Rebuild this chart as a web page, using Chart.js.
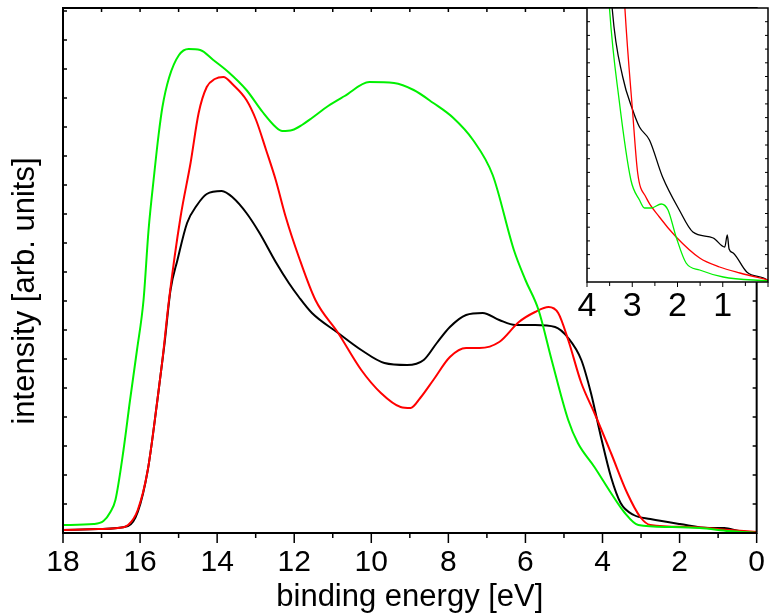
<!DOCTYPE html>
<html>
<head>
<meta charset="utf-8">
<script src="https://cdn.jsdelivr.net/npm/chart.js@4.4.1/dist/chart.umd.min.js"></script>
<style>
  body { margin: 0; background: #fff; }
  #wrap { position: relative; width: 777px; height: 616px; }
  #main { position: absolute; left: 0; top: 0; }
  #inset { position: absolute; left: 545px; top: 0; }
</style>
</head>
<body>
<div id="wrap">
  <canvas id="main" width="777" height="616"></canvas>
  <canvas id="inset" width="232" height="335"></canvas>
</div>
<script>
// main spectrum: binding energy [eV] and intensity [arb. units]
const greenE = [18, 17.21, 16.95, 16.77, 16.64, 16.43, 16.26, 16.08, 15.91, 15.78, 15.63, 15.52, 15.42, 15.25, 14.99, 14.74, 14.44, 14.10, 13.71, 13.24, 12.82, 12.48, 12.31, 12.05, 11.80, 11.54, 11.12, 10.69, 10.05, 9.41, 8.90, 8.39, 7.87, 7.36, 6.85, 6.30, 6.00, 5.66, 5.32, 4.89, 4.64, 4.21, 3.78, 3.44, 3.07, 2.25, 1.48, 0.72, 0];
const greenI = [8, 9, 12, 21, 33, 83, 133, 183, 233, 303, 360, 398, 426, 455, 478, 484, 483, 473, 461, 443, 421, 406, 402, 403, 408, 415, 427, 437, 451, 450, 443, 430, 415, 393, 358, 283, 253, 223, 173, 113, 90, 66, 40, 21, 8, 6, 5, 2, 0];

const redE = [18, 17.08, 16.57, 16.31, 16.06, 15.80, 15.55, 15.42, 15.25, 14.95, 14.69, 14.48, 14.27, 14.06, 13.84, 13.58, 13.24, 12.99, 12.73, 12.48, 12.22, 11.88, 11.45, 10.86, 10.26, 9.75, 9.24, 8.98, 8.73, 8.39, 7.96, 7.54, 7.19, 6.68, 6.17, 5.75, 5.40, 5.15, 4.89, 4.55, 4.21, 3.78, 3.36, 3.02, 2.76, 1.74, 0.72, 0];
const redI = [3, 4, 5, 8, 23, 63, 133, 173, 233, 316, 370, 420, 446, 454, 456, 448, 433, 413, 383, 353, 316, 276, 233, 200, 163, 140, 126, 125, 135, 153, 176, 185, 185, 191, 211, 221, 226, 220, 193, 150, 120, 80, 40, 16, 8, 6, 3, 1];

const blackE = [18, 17.08, 16.31, 16.06, 15.80, 15.55, 15.37, 15.21, 15.03, 14.78, 14.52, 14.27, 13.88, 13.58, 13.24, 12.90, 12.48, 12.14, 11.88, 11.54, 10.86, 10.26, 9.66, 9.07, 8.64, 8.30, 7.96, 7.54, 7.11, 6.68, 6.26, 5.75, 5.23, 4.89, 4.55, 4.30, 4.04, 3.78, 3.53, 3.19, 2.76, 1.99, 1.23, 0.84, 0.46, 0];
const blackI = [3, 4, 7, 21, 63, 133, 188, 243, 273, 310, 328, 339, 342, 335, 320, 300, 271, 250, 236, 220, 200, 183, 170, 168, 173, 190, 206, 218, 220, 213, 208, 208, 206, 195, 173, 140, 96, 56, 30, 18, 14, 9, 5, 5, 2, 0];

// inset: magnified region near the Fermi level
const insGreenE = [3.65, 3.50, 3.29, 3.03, 2.84, 2.73, 2.58, 2.36, 2.21, 2.03, 1.81, 1.51, 0.99, 0];
const insGreenI = [400, 272, 182, 102, 82, 74, 74, 78, 72, 45, 19, 12, 5, 1];
const insRedE = [3.30, 3.16, 2.99, 2.88, 2.70, 2.40, 2.03, 1.51, 1.07, 0.62, 0];
const insRedI = [400, 272, 169, 109, 85, 65, 45, 24, 15, 9, 2];
const insBlackE = [3.60, 3.44, 3.21, 2.99, 2.84, 2.62, 2.33, 1.96, 1.66, 1.21, 0.955, 0.90, 0.86, 0.77, 0.47, 0.02, 0];
const insBlackI = [400, 272, 205, 172, 155, 142, 105, 72, 50, 44, 35, 47, 33, 29, 10, 2, 1];

const mainXTicks = [18, 16, 14, 12, 10, 8, 6, 4, 2, 0];
const insetXTicks = [4, 3, 2, 1];

const FONT = '"Liberation Sans", Arial, sans-serif';

function pts(e, v) {
  return e.map((x, i) => ({ x: x, y: v[i] }));
}

function line(data, color, w) {
  return {
    data: data,
    borderColor: color,
    borderWidth: w,
    pointRadius: 0,
    fill: false,
    cubicInterpolationMode: 'monotone'
  };
}

// box around the plot, with outward ticks on the bottom and inward ticks elsewhere
const frame = {
  id: 'frame',
  beforeDatasetsDraw(chart, args, o) {
    if (!o.fillWhite) return;
    const a = chart.chartArea;
    chart.ctx.save();
    chart.ctx.fillStyle = '#fff';
    chart.ctx.fillRect(a.left, a.top, a.right - a.left, a.bottom - a.top);
    chart.ctx.restore();
  },
  afterDraw(chart, args, o) {
    const ctx = chart.ctx;
    const a = chart.chartArea;
    const x = chart.scales.x, y = chart.scales.y;
    ctx.save();
    ctx.strokeStyle = '#000';
    ctx.lineWidth = o.tickWidth;
    ctx.beginPath();
    for (let v = x.min; v <= x.max + 1e-9; v += o.xMinor) {
      const px = x.getPixelForValue(v);
      const r = v / o.xMajor;
      const major = Math.abs(r - Math.round(r)) < 1e-6;
      ctx.moveTo(px, a.bottom);
      ctx.lineTo(px, a.bottom + (major ? o.outMajor : o.outMinor));
      if (o.topTicks) {
        ctx.moveTo(px, a.top);
        ctx.lineTo(px, a.top + o.inLen);
      }
    }
    for (let v = y.min + o.yStep; v < y.max - 1; v += o.yStep) {
      const py = y.getPixelForValue(v);
      ctx.moveTo(a.left, py);
      ctx.lineTo(a.left + o.inLen, py);
      ctx.moveTo(a.right, py);
      ctx.lineTo(a.right - o.inLen, py);
    }
    ctx.stroke();
    ctx.lineWidth = o.width;
    ctx.strokeRect(a.left, a.top, a.right - a.left, a.bottom - a.top);
    if (o.yTitle) {
      ctx.fillStyle = '#000';
      ctx.font = o.yTitleFont;
      ctx.textAlign = 'center';
      ctx.textBaseline = 'middle';
      ctx.translate(o.yTitleX, o.yTitleY);
      ctx.rotate(-Math.PI / 2);
      ctx.fillText(o.yTitle, 0, 0);
    }
    ctx.restore();
  }
};

new Chart(document.getElementById('main'), {
  type: 'line',
  data: {
    datasets: [
      line(pts(greenE, greenI), '#00f000', 2),
      line(pts(redE, redI), '#ff0000', 2),
      line(pts(blackE, blackI), '#000000', 2)
    ]
  },
  options: {
    responsive: false,
    animation: false,
    events: [],
    layout: { padding: { top: 8, right: 9, left: 0, bottom: 0 } },
    plugins: {
      legend: { display: false },
      tooltip: { enabled: false },
      frame: {
        width: 2, tickWidth: 1.5, xMinor: 1, xMajor: 2, outMajor: 10, outMinor: 5,
        topTicks: true, inLen: 4, yStep: 29,
        yTitle: 'intensity [arb. units]', yTitleFont: '31px ' + FONT, yTitleX: 25, yTitleY: 291
      }
    },
    scales: {
      x: {
        type: 'linear',
        reverse: true,
        min: 0,
        max: 18,
        afterFit(s) { s.height = 83; },
        afterBuildTicks(s) { s.ticks = mainXTicks.map(v => ({ value: v })); },
        grid: { display: false, drawTicks: false },
        border: { display: false },
        ticks: { color: '#000', font: { family: FONT, size: 30 }, padding: 12, maxRotation: 0, autoSkip: false },
        title: { display: true, text: 'binding energy [eV]', color: '#000', font: { family: FONT, size: 31 }, padding: 0 }
      },
      y: {
        min: 0,
        max: 525,
        afterFit(s) { s.width = 63; },
        grid: { display: false, drawTicks: false },
        border: { display: false },
        ticks: { display: false }
      }
    }
  },
  plugins: [frame]
});

new Chart(document.getElementById('inset'), {
  type: 'line',
  data: {
    datasets: [
      line(pts(insGreenE, insGreenI), '#00f000', 1.3),
      line(pts(insRedE, insRedI), '#ff0000', 1.3),
      line(pts(insBlackE, insBlackI), '#000000', 1.3)
    ]
  },
  options: {
    responsive: false,
    animation: false,
    events: [],
    layout: { padding: { top: 8, right: 9, left: 0, bottom: 0 } },
    plugins: {
      legend: { display: false },
      tooltip: { enabled: false },
      frame: {
        fillWhite: true, width: 1.5, tickWidth: 1, xMinor: 0.5, xMajor: 1, outMajor: 5, outMinor: 4,
        topTicks: false, inLen: 3, yStep: 13.7
      }
    },
    scales: {
      x: {
        type: 'linear',
        reverse: true,
        min: 0,
        max: 4,
        afterFit(s) { s.height = 53; },
        afterBuildTicks(s) { s.ticks = insetXTicks.map(v => ({ value: v })); },
        grid: { display: false, drawTicks: false },
        border: { display: false },
        ticks: { color: '#000', font: { family: FONT, size: 34 }, padding: 4, maxRotation: 0, autoSkip: false }
      },
      y: {
        min: 0,
        max: 274,
        afterFit(s) { s.width = 42; },
        grid: { display: false, drawTicks: false },
        border: { display: false },
        ticks: { display: false }
      }
    }
  },
  plugins: [frame]
});
</script>
</body>
</html>
